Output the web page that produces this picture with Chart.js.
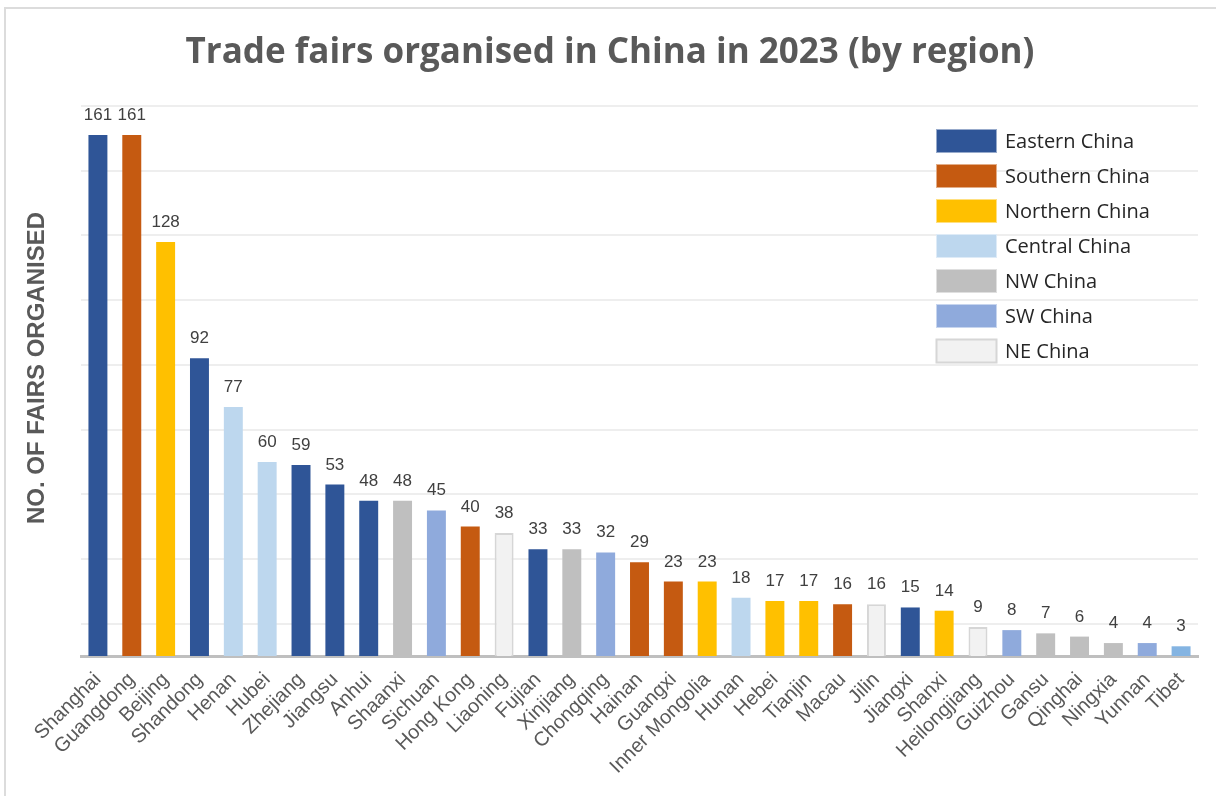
<!DOCTYPE html>
<html>
<head>
<meta charset="utf-8">
<script src="https://cdn.jsdelivr.net/npm/chart.js@4"></script>
<style>
  html, body { margin: 0; padding: 0; background: #fff; }
  #wrap { position: relative; width: 1216px; height: 796px; }
  #frame { position: absolute; left: 4px; top: 7px; right: 0; bottom: 0;
           border-left: 2px solid #dcdcdc; border-top: 2px solid #dcdcdc; pointer-events: none; }
</style>
</head>
<body>
<div id="wrap">
  <canvas id="fairs-Chart" width="1216" height="796"></canvas>
  <div id="frame"></div>
</div>
<script>
const labels = ["Shanghai", "Guangdong", "Beijing", "Shandong", "Henan", "Hubei", "Zhejiang",
    "Jiangsu", "Anhui", "Shaanxi", "Sichuan", "Hong Kong", "Liaoning", "Fujian", "Xinjiang",
    "Chongqing", "Hainan", "Guangxi", "Inner Mongolia", "Hunan", "Hebei", "Tianjin", "Macau",
    "Jilin", "Jiangxi", "Shanxi", "Heilongjiang", "Guizhou", "Gansu", "Qinghai", "Ningxia",
    "Yunnan", "Tibet"];

const fairs = [161, 161, 128, 92, 77, 60, 59, 53, 48, 48, 45, 40, 38, 33, 33, 32, 29, 23, 23,
    18, 17, 17, 16, 16, 15, 14, 9, 8, 7, 6, 4, 4, 3];

// region of each province (Tibet is drawn in a lighter blue in the original)
const regionOf = ["E", "S", "N", "E", "C", "C", "E", "E", "E", "NW", "SW", "S", "NE", "E", "NW",
    "SW", "S", "S", "N", "C", "N", "N", "S", "NE", "E", "N", "NE", "SW", "NW", "NW", "NW",
    "SW", "SW2"];

const legendKeys = ["E", "S", "N", "C", "NW", "SW", "NE"];
const legendLabels = ["Eastern China", "Southern China", "Northern China", "Central China",
    "NW China", "SW China", "NE China"];

const regionColours = {
    E: "#2F5597",
    S: "#C55A11",
    N: "#FFC000",
    C: "#BDD7EE",
    NW: "#BFBFBF",
    SW: "#8FAADC",
    SW2: "#84B4E2",
    NE: "#F2F2F2",
};

const gridValues = [10, 30, 50, 70, 90, 110, 130, 150, 170];

const barColours = regionOf.map(r => regionColours[r]);
const barBorders = regionOf.map(r => r === "NE" ? "#D6D6D6" : regionColours[r]);
const barBorderWidths = regionOf.map(r => r === "NE" ? 2 : 0);

// value labels above bars
const valueLabels = {
    id: "valueLabels",
    afterDatasetsDraw(chart) {
        const ctx = chart.ctx;
        const meta = chart.getDatasetMeta(0);
        ctx.save();
        ctx.font = "17px 'Liberation Sans', Arial, sans-serif";
        ctx.fillStyle = "#404040";
        ctx.textAlign = "center";
        ctx.textBaseline = "alphabetic";
        meta.data.forEach((bar, i) => {
            ctx.fillText(fairs[i], bar.x, bar.y - 15);
        });
        ctx.restore();
    }
};

// y axis title, sits a little above the middle of the plot in the original
const yTitle = {
    id: "yTitle",
    afterDraw(chart) {
        const ctx = chart.ctx;
        ctx.save();
        ctx.translate(37, 368);
        ctx.rotate(-Math.PI / 2);
        ctx.font = "bold 24px 'Liberation Sans', Arial, sans-serif";
        ctx.fillStyle = "#595959";
        ctx.textAlign = "center";
        ctx.textBaseline = "middle";
        ctx.fillText("NO. OF FAIRS ORGANISED", 0, 0);
        ctx.restore();
    }
};

// legend box in the upper right of the plot
const regionLegend = {
    id: "regionLegend",
    afterDraw(chart) {
        const ctx = chart.ctx;
        ctx.save();
        ctx.font = "20px 'Open Sans', sans-serif";
        ctx.textBaseline = "middle";
        ctx.textAlign = "left";
        legendKeys.forEach((k, i) => {
            const y = 141 + i * 35;
            ctx.fillStyle = regionColours[k];
            ctx.fillRect(936, y - 12, 61, 24);
            ctx.lineWidth = k === "NE" ? 2 : 1;
            ctx.strokeStyle = k === "NE" ? "#D6D6D6" : "rgba(255,255,255,0.5)";
            ctx.strokeRect(936.5, y - 11.5, 60, 23);
            ctx.fillStyle = "#262626";
            ctx.fillText(legendLabels[i], 1005, y + 1);
        });
        ctx.restore();
    }
};

const data = {
    labels: labels,
    datasets: [
        {
            label: "Trade fairs",
            data: fairs,
            backgroundColor: barColours,
            borderColor: barBorders,
            borderWidth: barBorderWidths,
            barPercentage: 0.56,
            categoryPercentage: 1.0,
        },
    ],
};

const config = {
    type: "bar",
    data: data,
    options: {
        responsive: false,
        animation: false,
        maintainAspectRatio: false,
        layout: {
            padding: { left: 22, right: 18, top: 0, bottom: 0 }
        },
        plugins: {
            legend: { display: false },
            tooltip: { enabled: false },
            title: {
                display: true,
                text: "Trade fairs organised in China in 2023 (by region)",
                color: "#595959",
                font: { family: "'Open Sans', sans-serif", size: 35, weight: "bold" },
                padding: { top: 32, bottom: 32 }
            }
        },
        scales: {
            x: {
                grid: { display: false },
                border: { display: true, color: "#BFBFBF", width: 3 },
                ticks: {
                    autoSkip: false,
                    maxRotation: 45,
                    minRotation: 45,
                    color: "#595959",
                    padding: 4,
                    font: { family: "'Liberation Sans', Arial, sans-serif", size: 20 }
                },
                afterFit(scale) { scale.height = 140; }
            },
            y: {
                min: 0,
                max: 170,
                border: { display: false },
                grid: { color: "#EEEEEE", lineWidth: 2, drawTicks: false },
                ticks: { display: false },
                afterBuildTicks(axis) { axis.ticks = gridValues.map(v => ({ value: v })); },
                afterFit(scale) { scale.width = 59; }
            }
        }
    },
    plugins: [valueLabels, yTitle, regionLegend]
};

let myChart = new Chart(document.getElementById("fairs-Chart"), config);
</script>
</body>
</html>
